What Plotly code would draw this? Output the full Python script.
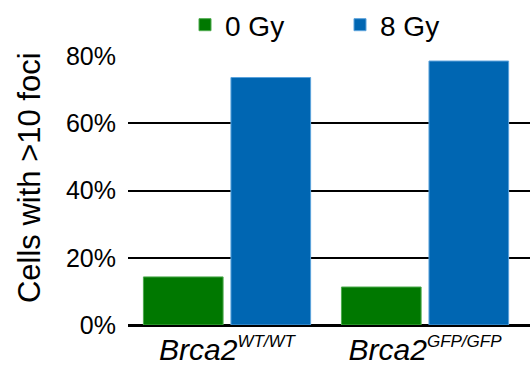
import plotly.graph_objects as go

# Genotypes on the x axis and the share of cells with >10 foci per dose
genotypes = [
    "<i>Brca2<sup><span style='font-size:17px'>WT/WT</span></sup></i>",
    "<i>Brca2<sup><span style='font-size:17px'>GFP/GFP</span></sup></i>",
]
dose_0gy = [14.3, 11.3]
dose_8gy = [73.6, 78.5]
y_ticks = [0, 20, 40, 60, 80]
y_tick_text = ["0%", "20%", "40%", "60%", "80%"]
y_title = "Cells with >10 foci"

FONT = "Liberation Sans, Arial, sans-serif"

fig = go.Figure()
fig.add_trace(go.Bar(
    name="0 Gy", x=genotypes, y=dose_0gy,
    marker=dict(color="#007800", line=dict(color="#4caa4c", width=1)),
))
fig.add_trace(go.Bar(
    name="8 Gy", x=genotypes, y=dose_8gy,
    marker=dict(color="#0066b2", line=dict(color="#5aa2dc", width=1)),
))

fig.update_layout(
    width=530, height=365,
    margin=dict(l=128, r=0, t=56, b=40, autoexpand=False),
    paper_bgcolor="white", plot_bgcolor="white",
    barmode="group", bargap=0.116, bargroupgap=0.09,
    font=dict(family=FONT, color="black"),
    showlegend=True,
    legend=dict(
        orientation="h",
        xref="container", x=185 / 530, xanchor="left",
        yref="container", y=1.0, yanchor="top",
        font=dict(size=28), entrywidth=110, entrywidthmode="pixels",
        bgcolor="rgba(0,0,0,0)",
    ),
)

# y-axis title, placed slightly above the plot's vertical centre
fig.add_annotation(
    text=y_title, textangle=-90, showarrow=False,
    xref="paper", x=-0.245, xanchor="center",
    yref="paper", y=0.548, yanchor="middle",
    font=dict(size=31, family=FONT, color="black"),
)

fig.update_xaxes(
    range=[-0.5, 1.53], showgrid=False, showline=False, zeroline=False,
    ticks="", tickfont=dict(size=30), ticklabelstandoff=4,
)
fig.update_yaxes(
    range=[0, 80], tickvals=y_ticks, ticktext=y_tick_text,
    showgrid=True, gridcolor="black", gridwidth=2,
    zeroline=True, zerolinecolor="black", zerolinewidth=3,
    showline=False, ticks="", tickfont=dict(size=25), ticklabelstandoff=11,
)

fig.write_html("out.html")
